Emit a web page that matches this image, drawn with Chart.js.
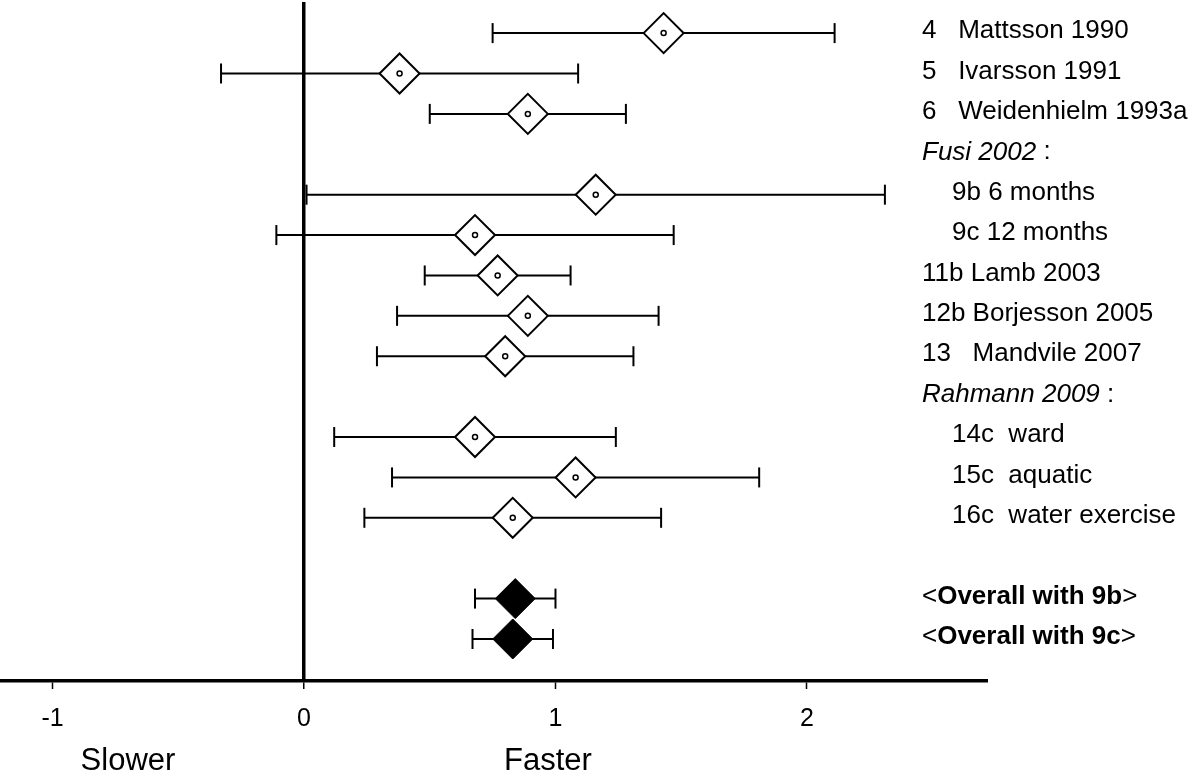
<!DOCTYPE html>
<html>
<head>
<meta charset="utf-8">
<script src="https://cdn.jsdelivr.net/npm/chart.js@4/dist/chart.umd.min.js"></script>
<style>
  html, body { margin: 0; padding: 0; background: #fff; }
  #wrap { width: 1200px; height: 778px; }
</style>
</head>
<body>
<div id="wrap"><canvas id="forestChart"></canvas></div>
<script>
// rows from top to bottom
const rowLabels = ['4   Mattsson 1990', '5   Ivarsson 1991', '6   Weidenhielm 1993a', 'Fusi 2002',
  '9b 6 months', '9c 12 months', '11b Lamb 2003', '12b Borjesson 2005', '13   Mandvile 2007',
  'Rahmann 2009', '14c  ward', '15c  aquatic', '16c  water exercise', '',
  'Overall with 9b', 'Overall with 9c'];
const rowKinds = ['study', 'study', 'study', 'group', 'sub', 'sub', 'study', 'study', 'study',
  'group', 'sub', 'sub', 'sub', 'blank', 'pooled', 'pooled'];
const estimates = [1.43, 0.38, 0.89, null, 1.16, 0.68, 0.77, 0.89, 0.80, null, 0.68, 1.08, 0.83, null, 0.84, 0.83];
const lower     = [0.75, -0.33, 0.50, null, 0.01, -0.11, 0.48, 0.37, 0.29, null, 0.12, 0.35, 0.24, null, 0.68, 0.67];
const upper     = [2.11, 1.09, 1.28, null, 2.31, 1.47, 1.06, 1.41, 1.31, null, 1.24, 1.81, 1.42, null, 1.00, 0.99];
const xTicks = [-1, 0, 1, 2];
const directionLabels = ['Slower', 'Faster'];

const FONT = '"Liberation Sans", Arial, sans-serif';
Chart.defaults.font.family = FONT;
Chart.defaults.color = '#000';

const whiskerSets = [];
const capPts = [], studyPts = [], pooledPts = [];
rowKinds.forEach((kind, i) => {
  if (estimates[i] == null) return;
  whiskerSets.push({
    data: [{ x: lower[i], y: i }, { x: upper[i], y: i }],
    showLine: true, borderColor: '#000', borderWidth: 2, pointRadius: 0, order: 3
  });
  capPts.push({ x: lower[i], y: i }, { x: upper[i], y: i });
  (kind === 'pooled' ? pooledPts : studyPts).push({ x: estimates[i], y: i });
});

const labelPlugin = {
  id: 'rowLabels',
  afterDatasetsDraw(chart) {
    const { ctx, scales: { x, y } } = chart;
    ctx.save();
    ctx.fillStyle = '#000';
    ctx.textBaseline = 'middle';
    ctx.textAlign = 'left';
    rowLabels.forEach((text, i) => {
      if (!text) return;
      const kind = rowKinds[i];
      const py = y.getPixelForValue(i) - 2;
      const px = kind === 'sub' ? 952 : 922;
      if (kind === 'group') {
        ctx.font = 'italic 26px ' + FONT;
        ctx.fillText(text, px, py);
        const w = ctx.measureText(text + ' ').width;
        ctx.font = '26px ' + FONT;
        ctx.fillText(':', px + w, py);
      } else if (kind === 'pooled') {
        ctx.font = '26px ' + FONT;
        ctx.fillText('<', px, py);
        let w = ctx.measureText('<').width;
        ctx.font = 'bold 26px ' + FONT;
        ctx.fillText(text, px + w, py);
        w += ctx.measureText(text).width;
        ctx.font = '26px ' + FONT;
        ctx.fillText('>', px + w, py);
      } else {
        ctx.font = '26px ' + FONT;
        ctx.fillText(text, px, py);
      }
    });
    ctx.font = '31px ' + FONT;
    ctx.textAlign = 'center';
    [-0.70, 0.97].forEach((v, i) => ctx.fillText(directionLabels[i], x.getPixelForValue(v), 761));
    ctx.restore();
  }
};

new Chart(document.getElementById('forestChart'), {
  type: 'scatter',
  data: {
    datasets: [
      { data: studyPts, pointStyle: 'circle', pointRadius: 2.5, pointBorderWidth: 1.5,
        pointBackgroundColor: '#fff', pointBorderColor: '#000', order: 0 },
      { data: studyPts, pointStyle: 'rectRot', pointRadius: 20, pointBorderWidth: 2,
        pointBackgroundColor: '#fff', pointBorderColor: '#000', order: 1 },
      { data: pooledPts, pointStyle: 'rectRot', pointRadius: 20, pointBorderWidth: 1,
        pointBackgroundColor: '#000', pointBorderColor: '#000', order: 1 },
      { data: capPts, pointStyle: 'line', pointRotation: 90, pointRadius: 10, pointBorderWidth: 2,
        pointBorderColor: '#000', order: 2 },
      ...whiskerSets
    ]
  },
  options: {
    responsive: true,
    maintainAspectRatio: false,
    animation: false,
    events: [],
    layout: { autoPadding: false, padding: { top: 2, right: 213, bottom: 0, left: 0 } },
    plugins: { legend: { display: false }, tooltip: { enabled: false } },
    scales: {
      x: {
        type: 'linear', min: -1.209, max: 2.716,
        afterBuildTicks: s => { s.ticks = xTicks.map(v => ({ value: v })); },
        afterFit: s => { s.height = 97; },
        border: { display: true, color: '#000', width: 3.5 },
        grid: {
          color: c => (c.tick && c.tick.value === 0 ? '#000' : 'rgba(0,0,0,0)'),
          lineWidth: c => (c.tick && c.tick.value === 0 ? 3.5 : 1),
          tickLength: 8, tickColor: '#000', tickWidth: 1.5
        },
        ticks: { color: '#000', font: { size: 25 }, padding: 15, maxRotation: 0 }
      },
      y: { type: 'linear', reverse: true, min: -0.77, max: 16.04, display: false }
    }
  },
  plugins: [labelPlugin]
});
</script>
</body>
</html>
